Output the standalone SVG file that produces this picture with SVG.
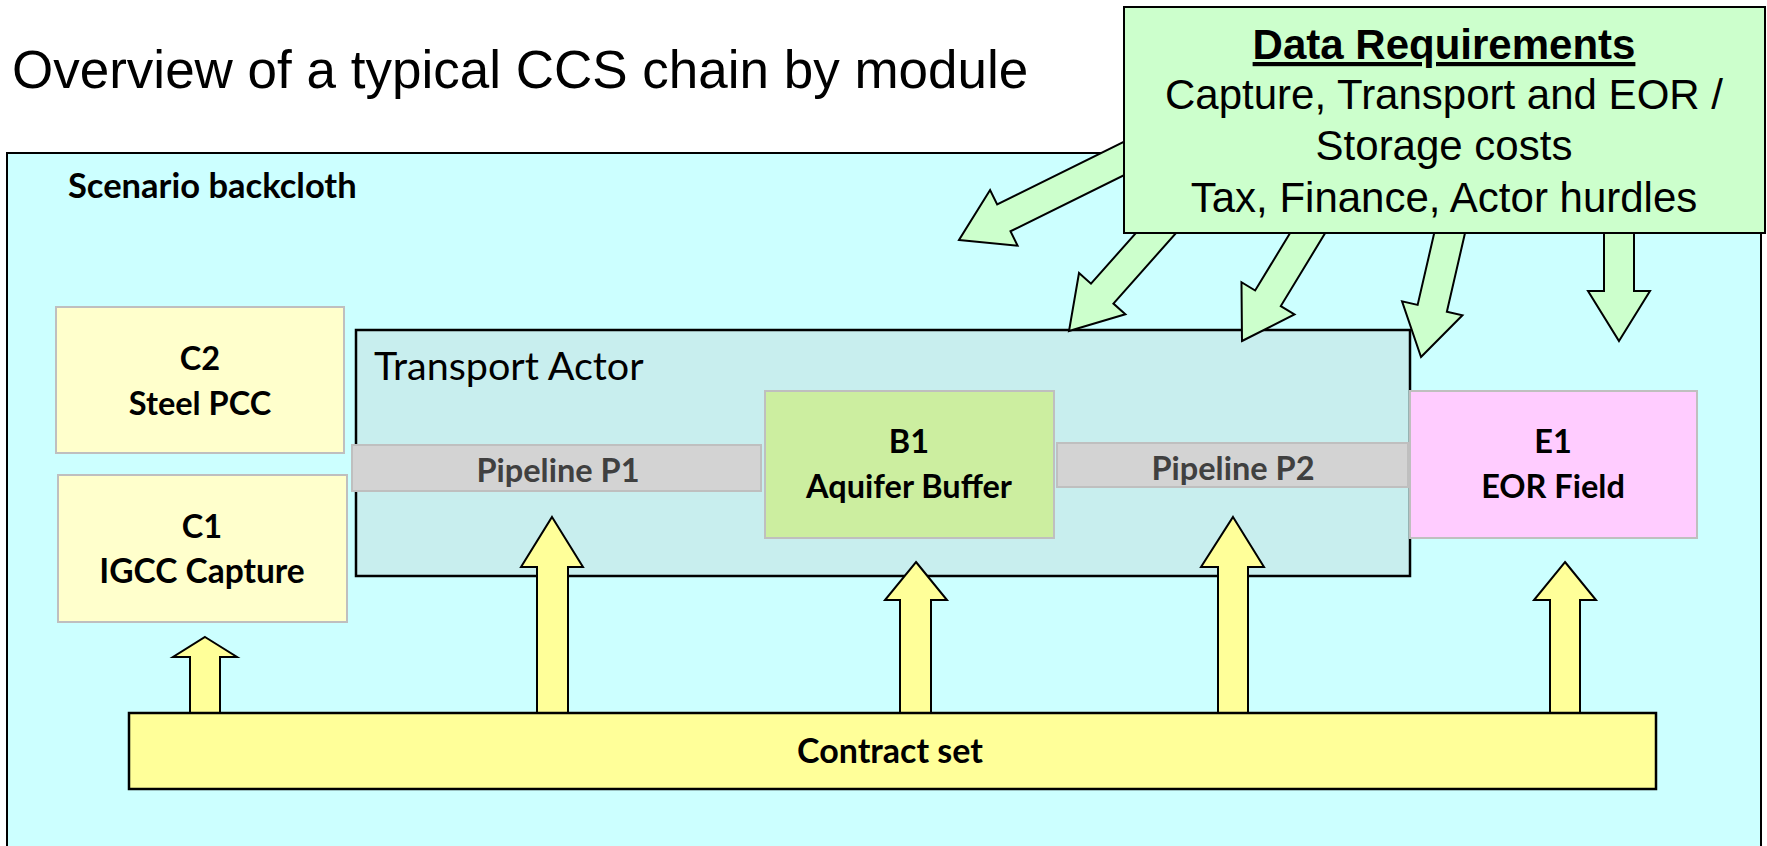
<svg xmlns="http://www.w3.org/2000/svg" width="1767" height="846" viewBox="0 0 1767 846">
  <defs>
    <style>
      .title { font-family: "Liberation Sans", Arial, sans-serif; font-size: 53px; fill: #000; }
      .req { font-family: "Liberation Sans", Arial, sans-serif; font-size: 42px; fill: #000; text-anchor: middle; }
      .req-head { font-weight: 700; text-decoration: underline; }
      .lbl { font-family: Lato, "Open Sans", sans-serif; font-weight: 700; font-size: 32.5px; fill: #000; text-anchor: middle; }
      .pipe-lbl { font-family: Lato, "Open Sans", sans-serif; font-weight: 700; font-size: 32.5px; fill: #404040; text-anchor: middle; }
      .actor-lbl { font-family: Lato, "Open Sans", sans-serif; font-size: 39.5px; fill: #000; }
      .soft { stroke: #BFBFBF; stroke-width: 2; }
      .green-arrow { fill: #CCFFCC; stroke: #000; stroke-width: 2; stroke-linejoin: miter; }
      .yellow-arrow { fill: #FFFF99; stroke: #000; stroke-width: 2; stroke-linejoin: miter; }
    </style>
    <!-- block arrow pointing +x with its tip at the origin -->
    <polygon id="block-arrow" points="0,0 -50,-31 -50,-15 -260,-15 -260,15 -50,15 -50,31"/>
  </defs>

  <rect width="1767" height="846" fill="#FFFFFF"/>

  <text class="title" x="12" y="88">Overview of a typical CCS chain by module</text>

  <g id="scenario-backcloth">
    <rect x="7" y="153" width="1754" height="720" fill="#CCFFFF" stroke="#000" stroke-width="2"/>
    <text class="lbl" x="68" y="198" style="text-anchor:start;font-size:34.5px">Scenario backcloth</text>
  </g>

  <g id="c2-steel-pcc">
    <rect x="56" y="307" width="288" height="146" fill="#FFFFCC" class="soft"/>
    <text class="lbl" x="200" y="370">C2</text>
    <text class="lbl" x="200" y="415">Steel PCC</text>
  </g>

  <g id="c1-igcc-capture">
    <rect x="58" y="475" width="289" height="147" fill="#FFFFCC" class="soft"/>
    <text class="lbl" x="202" y="538">C1</text>
    <text class="lbl" x="202" y="583" style="font-size:33.5px">IGCC Capture</text>
  </g>

  <g id="transport-actor">
    <rect x="356" y="330" width="1054" height="246" fill="#C8EEEE" stroke="#000" stroke-width="2.5"/>
    <text class="actor-lbl" x="374" y="380">Transport Actor</text>
  </g>

  <g id="pipeline-p1">
    <rect x="352" y="445" width="409" height="46" fill="#D3D3D3" class="soft"/>
    <text class="pipe-lbl" x="558" y="482">Pipeline P1</text>
  </g>

  <g id="b1-aquifer-buffer">
    <rect x="765" y="391" width="289" height="147" fill="#CCEEA0" class="soft"/>
    <text class="lbl" x="909" y="453">B1</text>
    <text class="lbl" x="909" y="498">Aquifer Buffer</text>
  </g>

  <g id="pipeline-p2">
    <rect x="1057" y="443" width="351" height="44" fill="#D3D3D3" class="soft"/>
    <text class="pipe-lbl" x="1233" y="480">Pipeline P2</text>
  </g>

  <g id="e1-eor-field">
    <rect x="1410" y="391" width="287" height="147" fill="#FFCCFF" class="soft"/>
    <text class="lbl" x="1553" y="453">E1</text>
    <text class="lbl" x="1553" y="498">EOR Field</text>
  </g>

  <g id="connectors">
    <!-- contract links, upward -->
    <polygon class="yellow-arrow" points="205,637 237,657 220,657 220,714 190,714 190,657 173,657"/>
    <polygon class="yellow-arrow" points="552,517 583,567 568,567 568,714 537,714 537,567 521,567"/>
    <polygon class="yellow-arrow" points="916,562 947,600 931,600 931,714 900,714 900,600 885,600"/>
    <polygon class="yellow-arrow" points="1233,517 1264,567 1248,567 1248,714 1218,714 1218,567 1201,567"/>
    <polygon class="yellow-arrow" points="1565,562 1596,600 1580,600 1580,714 1550,714 1550,600 1534,600"/>
    <!-- data requirement feeds, fanning out from the data box -->
    <use href="#block-arrow" class="green-arrow" transform="translate(959,240) rotate(153.7)"/>
    <use href="#block-arrow" class="green-arrow" transform="translate(1069,331) rotate(131.6)"/>
    <use href="#block-arrow" class="green-arrow" transform="translate(1242,341) rotate(121.3)"/>
    <use href="#block-arrow" class="green-arrow" transform="translate(1421,357) rotate(103)"/>
    <use href="#block-arrow" class="green-arrow" transform="translate(1619,341) rotate(90)"/>
  </g>

  <g id="contract-set">
    <rect x="129" y="713" width="1527" height="76" fill="#FFFF99" stroke="#000" stroke-width="2.5"/>
    <text class="lbl" x="890" y="763" style="font-size:34px">Contract set</text>
  </g>

  <g id="data-requirements">
    <rect x="1124" y="7" width="641" height="226" fill="#CCFFCC" stroke="#000" stroke-width="2"/>
    <text class="req req-head" x="1444" y="59">Data Requirements</text>
    <text class="req" x="1444" y="109">Capture, Transport and EOR /</text>
    <text class="req" x="1444" y="160">Storage costs</text>
    <text class="req" x="1444" y="212">Tax, Finance, Actor hurdles</text>
  </g>
</svg>
